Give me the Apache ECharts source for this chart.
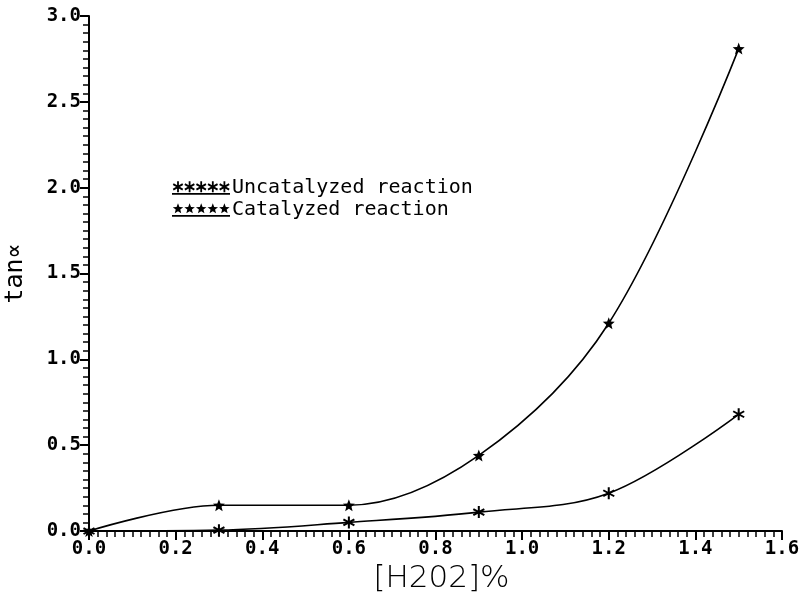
<!DOCTYPE html>
<html>
<head>
<meta charset="utf-8">
<script src="https://cdn.jsdelivr.net/npm/echarts@6/dist/echarts.min.js"></script>
<style>html,body{margin:0;padding:0;background:#fff}#c{width:800px;height:592px}</style>
</head>
<body>
<div id="c"></div>
<script>
// ---- data ----
const concentrations = [0.0, 0.3, 0.6, 0.9, 1.2, 1.5];
const uncatalyzed = [0.0, 0.005, 0.05, 0.11, 0.22, 0.68];
const catalyzed = [0.0, 0.15, 0.15, 0.44, 1.21, 2.81];
const seriesNames = ['Uncatalyzed reaction', 'Catalyzed reaction'];
const xTicks = [0.0, 0.2, 0.4, 0.6, 0.8, 1.0, 1.2, 1.4, 1.6];
const yTicks = [0.0, 0.5, 1.0, 1.5, 2.0, 2.5, 3.0];

// ---- symbol paths (style only) ----
function starSub(cx, cy, R, r) {
  let s = '';
  for (let i = 0; i < 10; i++) {
    const a = -Math.PI / 2 + i * Math.PI / 5;
    const rad = i % 2 === 0 ? R : r;
    const x = (cx + rad * Math.cos(a)).toFixed(2);
    const y = (cy + rad * Math.sin(a)).toFixed(2);
    s += (i === 0 ? 'M' : 'L') + x + ' ' + y + ' ';
  }
  return s + 'Z ';
}
function asteriskSub(cx, cy, R, w) {
  let s = '';
  for (let k = 0; k < 3; k++) {
    const a = Math.PI / 2 + k * Math.PI / 3;
    const dx = Math.cos(a), dy = Math.sin(a);
    const px = -dy * w / 2, py = dx * w / 2;
    const pts = [
      [cx - dx * R + px, cy - dy * R + py],
      [cx + dx * R + px, cy + dy * R + py],
      [cx + dx * R - px, cy + dy * R - py],
      [cx - dx * R - px, cy - dy * R - py]
    ];
    s += 'M' + pts.map(p => p[0].toFixed(2) + ' ' + p[1].toFixed(2)).join(' L') + ' Z ';
  }
  return s;
}
function legendIcon(kind) {
  let s = '';
  for (let i = 0; i < 5; i++) {
    const cx = 6 + i * 11.6;
    s += kind === 'star' ? starSub(cx, 6, 5.5, 2.4) : asteriskSub(cx, 6, 5.5, 1.8);
  }
  s += 'M0 12.2 L58 12.2 L58 13.8 L0 13.8 Z';
  return 'path://' + s;
}
const starSymbol = 'path://' + starSub(10, 10, 10, 4.3);
const asteriskSymbol = 'path://' + asteriskSub(10, 10, 10, 3.2);

const monoFont = "'DejaVu Sans Mono', 'Liberation Mono', monospace";

const chart = echarts.init(document.getElementById('c'));
chart.setOption({
  backgroundColor: '#fff',
  animation: false,
  grid: { left: 89, right: 18, top: 16, bottom: 61, containLabel: false, outerBoundsMode: 'none' },
  legend: {
    orient: 'vertical',
    left: 167,
    top: 173,
    itemWidth: 58,
    itemHeight: 14,
    itemGap: 2,
    textStyle: { fontFamily: monoFont, fontSize: 20, color: '#000', padding: [0, 0, 0, -3] },
    data: [
      { name: seriesNames[0], icon: legendIcon('asterisk') },
      { name: seriesNames[1], icon: legendIcon('star') }
    ]
  },
  xAxis: {
    type: 'value',
    min: 0, max: 1.6, interval: 0.2,
    name: '[H202]%',
    nameLocation: 'middle',
    nameGap: 26,
    nameTextStyle: { fontFamily: "'DejaVu Sans', sans-serif", fontWeight: 200, fontSize: 31, color: '#000', padding: [0, 0, 0, 12] },
    axisLine: { lineStyle: { color: '#000', width: 2 } },
    axisTick: { length: 9, lineStyle: { color: '#000', width: 2 } },
    minorTick: { show: true, splitNumber: 10, length: 6, lineStyle: { color: '#000', width: 1.5 } },
    splitLine: { show: false },
    axisLabel: { fontFamily: monoFont, fontWeight: 'bold', fontSize: 19, color: '#000', margin: 9,
      formatter: v => xTicks.some(t => Math.abs(t - v) < 1e-6) ? v.toFixed(1) : '' }
  },
  yAxis: {
    type: 'value',
    min: 0, max: 3, interval: 0.5,
    name: 'tan∝',
    nameLocation: 'middle',
    nameGap: 61,
    nameTextStyle: { fontFamily: monoFont, fontSize: 25, color: '#000' },
    axisLine: { show: true, lineStyle: { color: '#000', width: 2 } },
    axisTick: { show: true, length: 9, lineStyle: { color: '#000', width: 2 } },
    minorTick: { show: true, splitNumber: 10, length: 6, lineStyle: { color: '#000', width: 1.5 } },
    splitLine: { show: false },
    axisLabel: { fontFamily: monoFont, fontWeight: 'bold', fontSize: 19, color: '#000', margin: 8,
      formatter: v => yTicks.some(t => Math.abs(t - v) < 1e-6) ? v.toFixed(1) : '' }
  },
  series: [
    {
      name: seriesNames[0],
      type: 'line',
      smooth: 0.35,
      data: concentrations.map((x, i) => [x, uncatalyzed[i]]),
      symbol: asteriskSymbol,
      symbolSize: 12,
      lineStyle: { color: '#000', width: 1.6 },
      itemStyle: { color: '#000' }
    },
    {
      name: seriesNames[1],
      type: 'line',
      smooth: 0.35,
      data: concentrations.map((x, i) => [x, catalyzed[i]]),
      symbol: starSymbol,
      symbolSize: 12,
      lineStyle: { color: '#000', width: 1.6 },
      itemStyle: { color: '#000' }
    }
  ]
});
</script>
</body>
</html>
